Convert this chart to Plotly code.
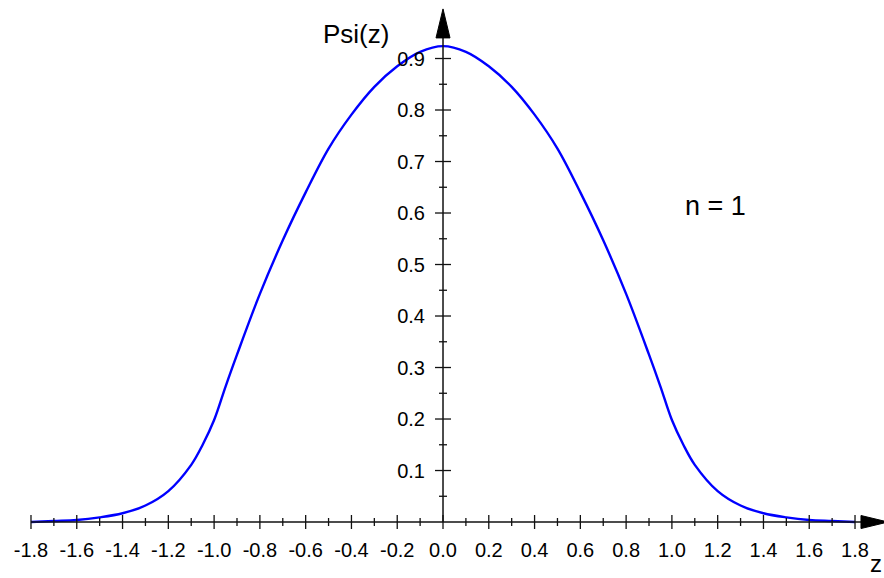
import plotly.graph_objects as go

# Data (symmetric about z = 0)
z_right = [0.0, 0.1, 0.2, 0.3, 0.4, 0.5, 0.6, 0.7, 0.8, 0.9, 0.95, 1.0, 1.05, 1.1, 1.2, 1.3, 1.4, 1.5, 1.6, 1.7, 1.8]
psi_right = [0.924, 0.913, 0.885, 0.845, 0.791, 0.725, 0.640, 0.547, 0.443, 0.325, 0.263, 0.198, 0.150, 0.111, 0.060, 0.032, 0.017, 0.009, 0.004, 0.002, 0.0]

z_vals = [-v for v in z_right[::-1]] + z_right[1:]
psi_vals = psi_right[::-1] + psi_right[1:]

x_major = [-1.8, -1.6, -1.4, -1.2, -1.0, -0.8, -0.6, -0.4, -0.2, 0.0, 0.2, 0.4, 0.6, 0.8, 1.0, 1.2, 1.4, 1.6, 1.8]
x_labels = ["-1.8", "-1.6", "-1.4", "-1.2", "-1.0", "-0.8", "-0.6", "-0.4", "-0.2", "0.0",
            "0.2", "0.4", "0.6", "0.8", "1.0", "1.2", "1.4", "1.6", "1.8"]
x_minor = [-1.7, -1.5, -1.3, -1.1, -0.9, -0.7, -0.5, -0.3, -0.1, 0.1, 0.3, 0.5, 0.7, 0.9, 1.1, 1.3, 1.5, 1.7]
y_major = [0.1, 0.2, 0.3, 0.4, 0.5, 0.6, 0.7, 0.8, 0.9]
y_labels = ["0.1", "0.2", "0.3", "0.4", "0.5", "0.6", "0.7", "0.8", "0.9"]
y_minor = [0.05, 0.15, 0.25, 0.35, 0.45, 0.55, 0.65, 0.75, 0.85]

W, H = 884, 578
XR = [-1.9354, 1.9266]
YR = [-0.1087, 1.0136]
FONT = "Liberation Sans, Arial, sans-serif"
AX = "#111111"
X_END = 1.826
Y_END = 0.94

fig = go.Figure()
fig.add_trace(go.Scatter(x=z_vals, y=psi_vals, mode="lines",
                         line=dict(color="#0000ff", width=2.4, shape="spline", smoothing=1.0),
                         hoverinfo="skip", showlegend=False))

shapes = []
# axis lines
shapes.append(dict(type="line", xref="x", yref="y", x0=x_major[0], x1=X_END, y0=0, y1=0,
                   line=dict(color=AX, width=1.5)))
shapes.append(dict(type="line", xref="x", yref="y", x0=0, x1=0, y0=0, y1=Y_END,
                   line=dict(color=AX, width=1.5)))
# x ticks
for v in x_major:
    shapes.append(dict(type="line", xref="x", yref="y", ysizemode="pixel", yanchor=0,
                       x0=v, x1=v, y0=-7, y1=7, line=dict(color=AX, width=1.3)))
for v in x_minor:
    shapes.append(dict(type="line", xref="x", yref="y", ysizemode="pixel", yanchor=0,
                       x0=v, x1=v, y0=-4, y1=4, line=dict(color=AX, width=1.3)))
# y ticks
for v in y_major:
    shapes.append(dict(type="line", xref="x", yref="y", xsizemode="pixel", xanchor=0,
                       x0=-8, x1=8, y0=v, y1=v, line=dict(color=AX, width=1.3)))
for v in y_minor:
    shapes.append(dict(type="line", xref="x", yref="y", xsizemode="pixel", xanchor=0,
                       x0=-4, x1=4, y0=v, y1=v, line=dict(color=AX, width=1.3)))
# arrow heads
shapes.append(dict(type="path", xref="x", yref="y", xsizemode="pixel", ysizemode="pixel",
                   xanchor=0, yanchor=Y_END, path="M -7 0 L 7 0 L 0 29 Z",
                   fillcolor="black", line=dict(color="black", width=1)))
shapes.append(dict(type="path", xref="x", yref="y", xsizemode="pixel", ysizemode="pixel",
                   xanchor=X_END, yanchor=0, path="M 0 -6.5 L 0 6.5 L 27 0 Z",
                   fillcolor="black", line=dict(color="black", width=1)))

fig.update_layout(
    width=W, height=H, margin=dict(l=0, r=0, t=0, b=0),
    paper_bgcolor="white", plot_bgcolor="white",
    shapes=shapes,
    xaxis=dict(range=XR, showgrid=False, zeroline=False, showline=False,
               tickmode="array", tickvals=x_major, ticktext=x_labels,
               ticks="outside", ticklen=10, tickcolor="rgba(0,0,0,0)",
               tickfont=dict(family=FONT, size=20, color="black"),
               anchor="free", position=(0 - YR[0]) / (YR[1] - YR[0])),
    yaxis=dict(range=YR, showgrid=False, zeroline=False, showline=False,
               tickmode="array", tickvals=y_major, ticktext=y_labels,
               ticks="outside", ticklen=14, tickcolor="rgba(0,0,0,0)",
               tickfont=dict(family=FONT, size=20, color="black"),
               anchor="free", position=(0 - XR[0]) / (XR[1] - XR[0])),
    annotations=[
        dict(text="Psi(z)", x=-0.38, y=0.947, xref="x", yref="y", showarrow=False,
             font=dict(family=FONT, size=26, color="black")),
        dict(text="n = 1", x=1.19, y=0.613, xref="x", yref="y", showarrow=False,
             font=dict(family=FONT, size=27, color="black")),
        dict(text="z", x=1.892, y=0, xref="x", yref="paper", yanchor="bottom",
             showarrow=False, borderpad=0,
             font=dict(family=FONT, size=24, color="black")),
    ],
)

fig.write_html("out.html")
